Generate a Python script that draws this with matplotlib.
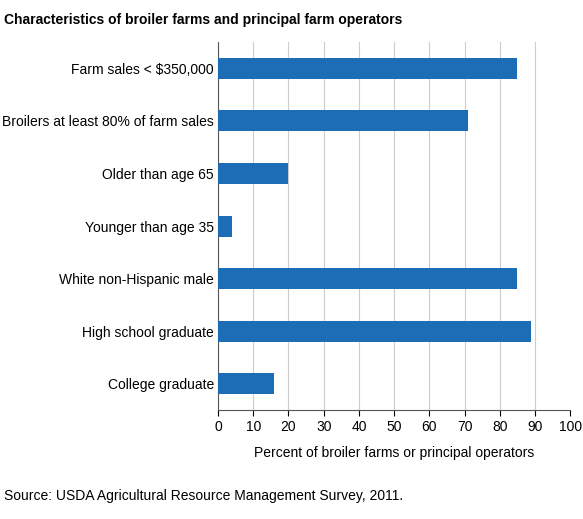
import matplotlib
matplotlib.use("Agg")
import matplotlib.pyplot as plt

categories = ["Farm sales < $350,000", "Broilers at least 80% of farm sales",
              "Older than age 65", "Younger than age 35",
              "White non-Hispanic male", "High school graduate", "College graduate"]
values = [85, 71, 20, 4, 85, 89, 16]
xticks = list(range(0, 101, 10))

plt.rcParams['font.family'] = ['Liberation Sans', 'DejaVu Sans']
fig = plt.figure(figsize=(5.83, 5.19), dpi=100)
ax = fig.add_axes([0.374, 0.21, 0.604, 0.709])
pos = list(range(len(categories)))
ax.barh(pos, values, height=0.4, color="#1c6db5", zorder=3)
ax.set_ylim(len(categories) - 0.5, -0.5)
ax.set_xlim(0, 100)
ax.set_xticks(xticks)
ax.set_yticks(pos)
ax.set_yticklabels(categories, fontsize=10)
ax.tick_params(axis='x', labelsize=10, length=4)
ax.tick_params(axis='y', length=0, pad=3)
ax.grid(axis='x', color="#cccccc", linewidth=0.8, zorder=0)
for s in ['top', 'right']:
    ax.spines[s].set_visible(False)
ax.spines['left'].set_color('#555555')
ax.spines['bottom'].set_color('#555555')
ax.set_xlabel("Percent of broiler farms or principal operators", fontsize=10, labelpad=8)
fig.text(0.007, 0.975, "Characteristics of broiler farms and principal farm operators",
         fontsize=10, fontweight='bold', va='top')
fig.text(0.007, 0.045, "Source: USDA Agricultural Resource Management Survey, 2011.",
         fontsize=10, va='center')
fig.savefig("out.png", dpi=100)
